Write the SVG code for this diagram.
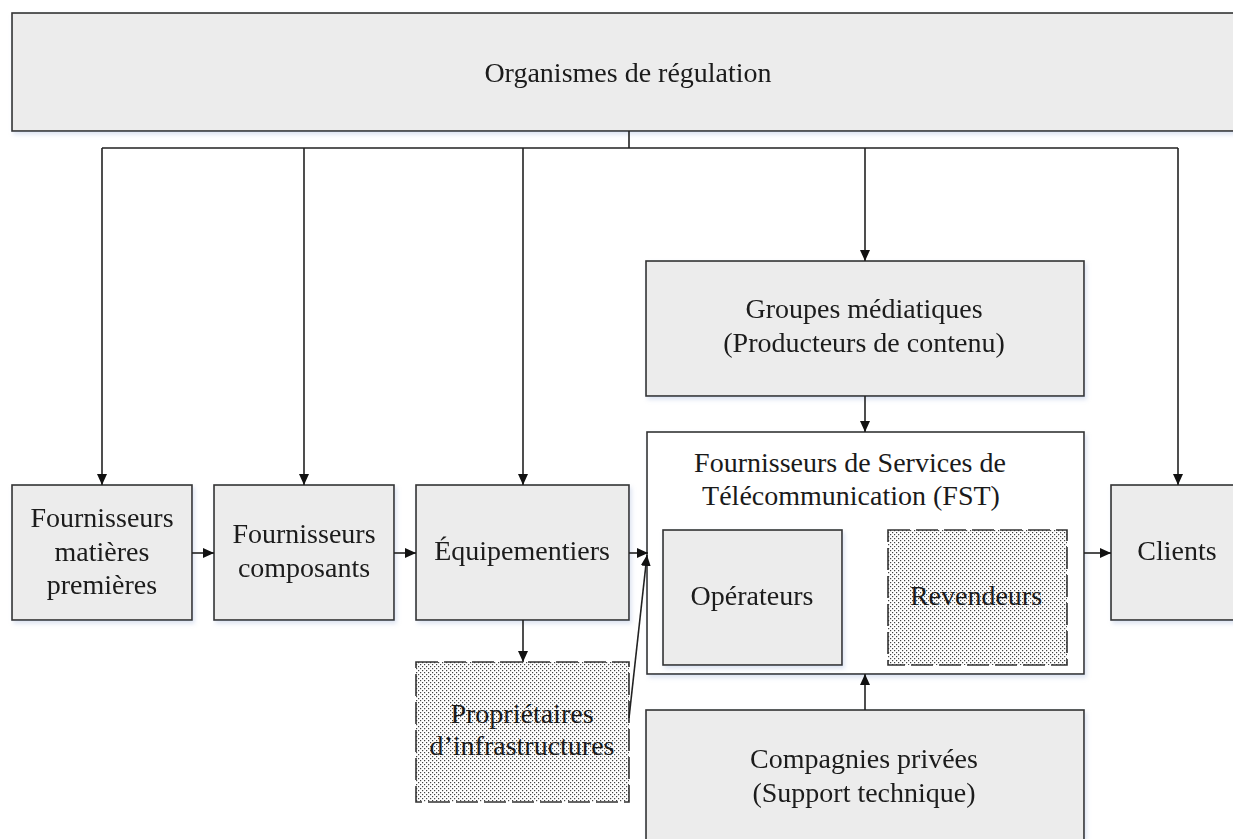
<svg xmlns="http://www.w3.org/2000/svg" width="1233" height="839" viewBox="0 0 1233 839">
  <style>
    .box { fill: #ececec; stroke: #333; stroke-width: 1.6; }
    .frame { fill: #ffffff; stroke: #333; stroke-width: 1.6; }
    .dotted { fill: url(#stipple); stroke: #333; stroke-width: 1.6; stroke-dasharray: 22 6; }
    .lbl { font-family: "Liberation Serif", "Times New Roman", serif; font-size: 28px; fill: #1a1a1a; text-anchor: middle; }
    .wire { fill: none; stroke: #222; stroke-width: 1.6; }
    .arr { marker-end: url(#head); }
  </style>
  <defs>
    <pattern id="stipple" width="4" height="4" patternUnits="userSpaceOnUse">
      <rect width="4" height="4" fill="#ffffff"/>
      <rect x="0" y="0" width="1.2" height="1.2" fill="#444"/>
      <rect x="2" y="2" width="1.2" height="1.2" fill="#444"/>
    </pattern>
    <marker id="head" markerUnits="userSpaceOnUse" markerWidth="11" markerHeight="10" refX="11" refY="5" orient="auto">
      <path d="M0,0 L11,5 L0,10 z" fill="#111"/>
    </marker>
    <filter id="shadow" x="-5%" y="-5%" width="115%" height="120%">
      <feDropShadow dx="2" dy="3" stdDeviation="2" flood-color="#9fb3d9" flood-opacity="0.35"/>
    </filter>
  </defs>

  <!-- regulators -->
  <g id="regulation" filter="url(#shadow)">
    <rect class="box" x="12" y="13" width="1240" height="118"/>
    <text class="lbl" x="628" y="82">Organismes de régulation</text>
  </g>

  <!-- supply chain -->
  <g id="matieres" filter="url(#shadow)">
    <rect class="box" x="12" y="485" width="180" height="135"/>
    <text class="lbl" x="102" y="527">Fournisseurs</text>
    <text class="lbl" x="102" y="561">matières</text>
    <text class="lbl" x="102" y="594">premières</text>
  </g>

  <g id="composants" filter="url(#shadow)">
    <rect class="box" x="214" y="485" width="180" height="135"/>
    <text class="lbl" x="304" y="543">Fournisseurs</text>
    <text class="lbl" x="304" y="577">composants</text>
  </g>

  <g id="equipementiers" filter="url(#shadow)">
    <rect class="box" x="416" y="485" width="213" height="135"/>
    <text class="lbl" x="522" y="560">Équipementiers</text>
  </g>

  <g id="proprietaires">
    <rect class="dotted" x="416" y="662" width="213" height="140"/>
    <text class="lbl" x="522" y="723">Propriétaires</text>
    <text class="lbl" x="522" y="755">d’infrastructures</text>
  </g>

  <g id="medias" filter="url(#shadow)">
    <rect class="box" x="646" y="261" width="438" height="135"/>
    <text class="lbl" x="864" y="318">Groupes médiatiques</text>
    <text class="lbl" x="864" y="352">(Producteurs de contenu)</text>
  </g>

  <!-- service providers and their two kinds -->
  <g id="fst">
    <rect class="frame" x="647" y="432" width="437" height="242" filter="url(#shadow)"/>
    <text class="lbl" x="850" y="472">Fournisseurs de Services de</text>
    <text class="lbl" x="851" y="505">Télécommunication (FST)</text>
  </g>

  <g id="operateurs" filter="url(#shadow)">
    <rect class="box" x="663" y="530" width="179" height="135"/>
    <text class="lbl" x="752" y="605">Opérateurs</text>
  </g>

  <g id="revendeurs">
    <rect class="dotted" x="888" y="530" width="179" height="135"/>
    <text class="lbl" x="976" y="605">Revendeurs</text>
  </g>

  <g id="clients" filter="url(#shadow)">
    <rect class="box" x="1111" y="485" width="140" height="135"/>
    <text class="lbl" x="1177" y="560">Clients</text>
  </g>

  <g id="compagnies" filter="url(#shadow)">
    <rect class="box" x="646" y="710" width="438" height="150"/>
    <text class="lbl" x="864" y="768">Compagnies privées</text>
    <text class="lbl" x="864" y="802">(Support technique)</text>
  </g>

  <!-- connectors -->
  <g id="connectors">
    <path class="wire" d="M629,131 V148 M102,148 H1178"/>
    <path class="wire arr" d="M102,148 V485"/>
    <path class="wire arr" d="M304,148 V485"/>
    <path class="wire arr" d="M523,148 V485"/>
    <path class="wire arr" d="M865,148 V261"/>
    <path class="wire arr" d="M1178,148 V485"/>
    <path class="wire arr" d="M192,553 H214"/>
    <path class="wire arr" d="M394,553 H416"/>
    <path class="wire arr" d="M629,553 H648"/>
    <path class="wire arr" d="M523,620 V662"/>
    <path class="wire arr" d="M629,718 L647,555"/>
    <path class="wire arr" d="M865,396 V432"/>
    <path class="wire arr" d="M865,710 V674"/>
    <path class="wire arr" d="M1084,553 H1111"/>
  </g>
</svg>
